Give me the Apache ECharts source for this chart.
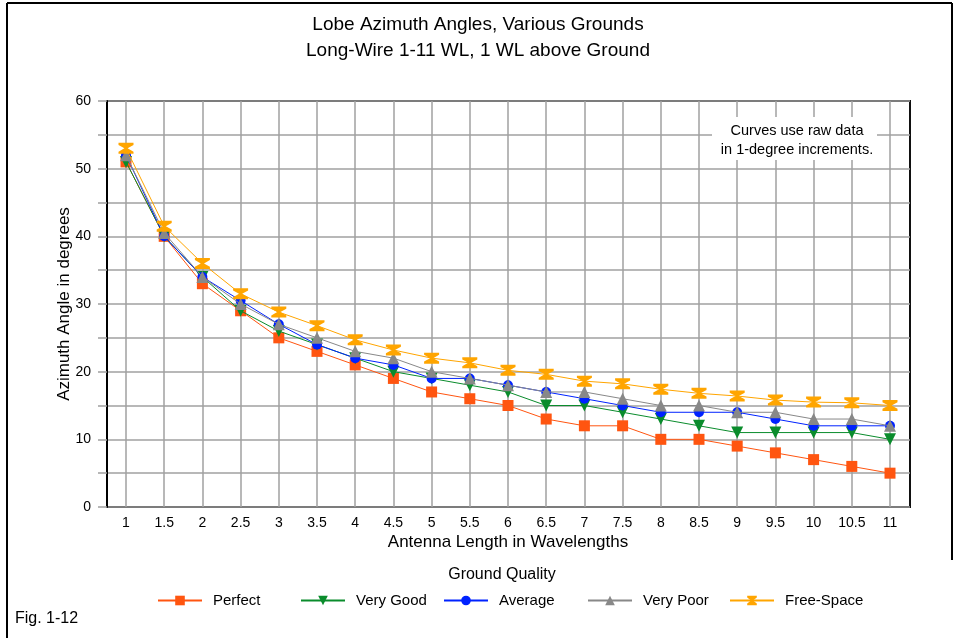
<!DOCTYPE html>
<html>
<head>
<meta charset="utf-8">
<script src="https://cdn.jsdelivr.net/npm/echarts@6/dist/echarts.min.js"></script>
<style>
  html, body { margin: 0; padding: 0; background: #fff; }
  #chart { width: 956px; height: 638px; }
</style>
</head>
<body>
<div id="chart"></div>
<script>
// antenna length in wavelengths
var lengths = [1, 1.5, 2, 2.5, 3, 3.5, 4, 4.5, 5, 5.5, 6, 6.5, 7, 7.5, 8, 8.5, 9, 9.5, 10, 10.5, 11];

// azimuth angle (degrees) per ground type
var perfect   = [51, 40, 33, 29, 25, 23, 21, 19, 17, 16, 15, 13, 12, 12, 10, 10, 9, 8, 7, 6, 5];
var veryGood  = [51, 40, 34, 29, 26, 24, 22, 20, 19, 18, 17, 15, 15, 14, 13, 12, 11, 11, 11, 11, 10];
var average   = [52, 40, 34, 30.5, 27, 24, 22, 21, 19, 19, 18, 17, 16, 15, 14, 14, 14, 13, 12, 12, 12];
var veryPoor  = [52, 40.5, 34, 30, 27, 25, 23, 22, 20, 19, 18, 17, 17, 16, 15, 15, 14, 14, 13, 13, 12];
var freeSpace = [53, 41.5, 36, 31.5, 28.8, 26.8, 24.7, 23.2, 22, 21.3, 20.2, 19.6, 18.6, 18.2, 17.4, 16.8, 16.4, 15.8, 15.5, 15.4, 15];

var seriesNames = ['Perfect', 'Very Good', 'Average', 'Very Poor', 'Free-Space'];

var FONT = 'Liberation Sans, Arial, sans-serif';
var hourglass = 'path://M0,0 L14,0 L14,2 L8.5,5 L14,8 L14,10 L0,10 L0,8 L5.5,5 L0,2 Z';

function pairs(vals) {
  return lengths.map(function (x, i) { return [x, vals[i]]; });
}

// 每条曲线的样式
var styles = [
  { data: perfect,   color: '#ff5510', symbol: 'rect',     size: 11, rotate: 0 },
  { data: veryGood,  color: '#0a8c2c', symbol: 'triangle', size: 12, rotate: 180 },
  { data: average,   color: '#0022ff', symbol: 'circle',   size: 10, rotate: 0 },
  { data: veryPoor,  color: '#888888', symbol: 'triangle', size: 12, rotate: 0 },
  { data: freeSpace, color: '#ffa500', symbol: hourglass,  size: [15, 11], rotate: 0 }
];

var series = styles.map(function (s, i) {
  return {
    name: seriesNames[i],
    type: 'line',
    xAxisIndex: 1,
    yAxisIndex: 1,
    data: pairs(s.data),
    symbol: s.symbol,
    symbolSize: s.size,
    symbolRotate: s.rotate,
    showSymbol: true,
    lineStyle: { color: s.color, width: 1 },
    itemStyle: { color: s.color },
    z: 3 + i,
    animation: false
  };
});

var legendLeft = [157, 300, 443, 587, 729];
var legends = seriesNames.map(function (n, i) {
  return {
    data: [n],
    left: legendLeft[i],
    top: 593,
    itemWidth: 44,
    itemHeight: 12,
    padding: 0,
    textStyle: { fontFamily: FONT, fontSize: 15, color: '#000', padding: [0, 0, 0, 6] }
  };
});

var chart = echarts.init(document.getElementById('chart'));

chart.setOption({
  backgroundColor: '#fff',
  animation: false,
  grid: [
    { left: 107, right: 46, top: 101, bottom: 131, show: true, borderColor: '#111', borderWidth: 2, backgroundColor: 'transparent' },
    { left: 126, right: 66, top: 101, bottom: 131 }
  ],
  xAxis: [
    { gridIndex: 0, type: 'value', min: 0, max: 1, show: false },
    {
      gridIndex: 1,
      type: 'value',
      min: 1,
      max: 11,
      interval: 0.5,
      axisLine: { show: false },
      axisTick: { show: false },
      splitLine: { show: true, lineStyle: { color: '#a0a0a0', width: 1.5 } },
      axisLabel: { fontFamily: FONT, fontSize: 14, color: '#000', margin: 9 },
      name: 'Antenna Length in Wavelengths',
      nameLocation: 'middle',
      nameGap: 27,
      nameMoveOverlap: false,
      nameTextStyle: { fontFamily: FONT, fontSize: 17, color: '#000' }
    }
  ],
  yAxis: [
    {
      gridIndex: 0,
      type: 'value',
      min: 0,
      max: 60,
      interval: 5,
      axisLine: { show: true, lineStyle: { color: '#000', width: 2 } },
      axisTick: { show: true, length: 9, lineStyle: { color: '#a0a0a0', width: 1.5 } },
      splitLine: { show: true, lineStyle: { color: '#a0a0a0', width: 1.5 } },
      axisLabel: {
        fontFamily: FONT, fontSize: 14, color: '#000', margin: 16,
        formatter: function (v) { return v % 10 === 0 ? String(v) : ''; }
      },
      name: 'Azimuth Angle in degrees',
      nameLocation: 'middle',
      nameGap: 34,
      nameMoveOverlap: false,
      nameTextStyle: { fontFamily: FONT, fontSize: 17, color: '#000' }
    },
    { gridIndex: 1, type: 'value', min: 0, max: 60, show: false }
  ],
  legend: legends,
  series: series,
  graphic: [
    { type: 'line', shape: { x1: 7, y1: 3, x2: 952, y2: 3 }, style: { stroke: '#000', lineWidth: 2 } },
    { type: 'line', shape: { x1: 7, y1: 3, x2: 7, y2: 638 }, style: { stroke: '#000', lineWidth: 2 } },
    { type: 'line', shape: { x1: 952, y1: 3, x2: 952, y2: 560 }, style: { stroke: '#000', lineWidth: 2 } },
    {
      type: 'text', left: 'center', top: 12,
      style: {
        text: 'Lobe Azimuth Angles, Various Grounds\nLong-Wire 1-11 WL, 1 WL above Ground',
        font: '19px ' + FONT, fill: '#000', textAlign: 'center', lineHeight: 26
      },
      x: 482
    },
    {
      type: 'rect', z: 10,
      shape: { x: 712, y: 117, width: 165, height: 43 },
      style: { fill: '#fff' }
    },
    {
      type: 'text', z: 11, x: 797, y: 121,
      style: {
        text: 'Curves use raw data\nin 1-degree increments.',
        font: '14.5px ' + FONT, fill: '#000', textAlign: 'center', lineHeight: 19
      }
    },
    {
      type: 'text', x: 502, y: 567,
      style: { text: 'Ground Quality', font: '16px ' + FONT, fill: '#000', textAlign: 'center' }
    },
    {
      type: 'text', x: 15, y: 611,
      style: { text: 'Fig. 1-12', font: '16px ' + FONT, fill: '#000' }
    }
  ]
});
</script>
</body>
</html>
